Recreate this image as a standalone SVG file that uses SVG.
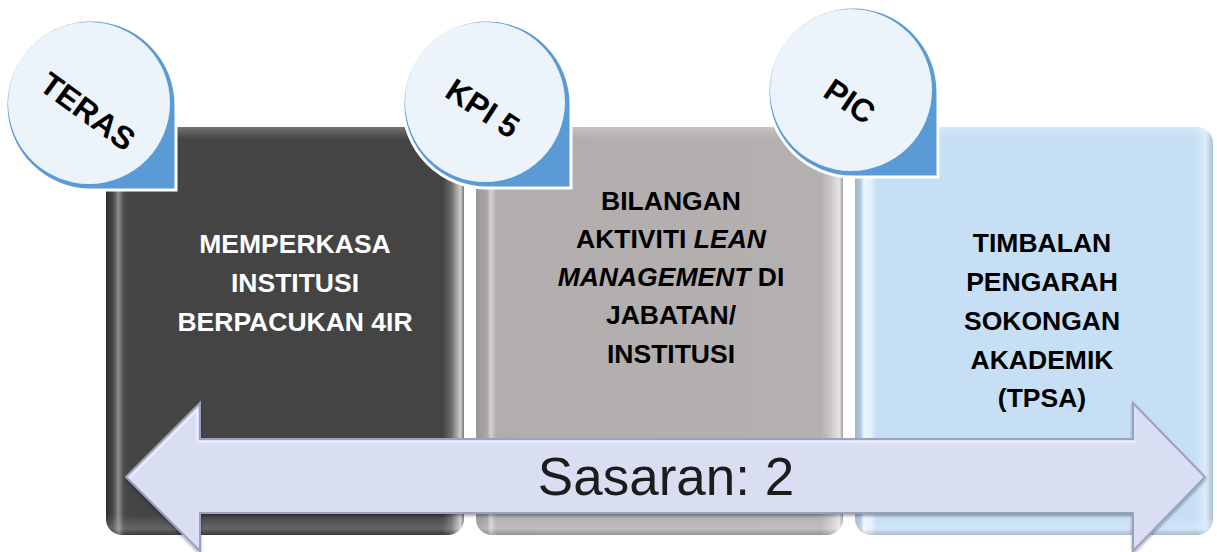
<svg xmlns="http://www.w3.org/2000/svg" width="1217" height="552" viewBox="0 0 1217 552">
  <style>
    .boxtxt { font-family: "Liberation Sans", Arial, sans-serif; font-weight: bold; font-size: 26.5px; text-anchor: middle; }
    .pintxt { font-family: "Liberation Sans", Arial, sans-serif; font-weight: bold; font-size: 32px; text-anchor: middle; fill: #000; }
    .pinouter { fill: #5b9bd5; stroke: #ffffff; stroke-width: 3; }
    .pininner { fill: #edf3fa; }
    .arrowtxt { font-family: "Liberation Sans", Arial, sans-serif; font-size: 53px; text-anchor: middle; fill: #1a1a1a; }
  </style>
  <defs>
    <linearGradient id="g1" x1="0" y1="0" x2="1" y2="0">
      <stop offset="0" stop-color="#2e2e2e"/>
      <stop offset="0.02" stop-color="#4a4a4a"/>
      <stop offset="0.035" stop-color="#8c8c8c"/>
      <stop offset="0.05" stop-color="#4a4a4a"/>
      <stop offset="0.07" stop-color="#444444"/>
      <stop offset="0.94" stop-color="#444444"/>
      <stop offset="0.965" stop-color="#6c6c6c"/>
      <stop offset="0.99" stop-color="#cccccc"/>
      <stop offset="1" stop-color="#777777"/>
    </linearGradient>
    <linearGradient id="g2" x1="0" y1="0" x2="1" y2="0">
      <stop offset="0" stop-color="#9a9695"/>
      <stop offset="0.03" stop-color="#a9a5a4"/>
      <stop offset="0.04" stop-color="#d4d1d0"/>
      <stop offset="0.055" stop-color="#b2aead"/>
      <stop offset="0.94" stop-color="#b4b0af"/>
      <stop offset="0.965" stop-color="#c8c5c4"/>
      <stop offset="0.99" stop-color="#e8e6e5"/>
      <stop offset="1" stop-color="#a09c9b"/>
    </linearGradient>
    <linearGradient id="g3" x1="0" y1="0" x2="1" y2="0">
      <stop offset="0" stop-color="#9fb7cc"/>
      <stop offset="0.015" stop-color="#aec8de"/>
      <stop offset="0.025" stop-color="#eef6fd"/>
      <stop offset="0.045" stop-color="#e4f0fb"/>
      <stop offset="0.06" stop-color="#c6dff5"/>
      <stop offset="0.95" stop-color="#c6dff5"/>
      <stop offset="0.98" stop-color="#dcebf9"/>
      <stop offset="1" stop-color="#a9c2d8"/>
    </linearGradient>
    <linearGradient id="gv" x1="0" y1="0" x2="0" y2="1">
      <stop offset="0" stop-color="#ffffff" stop-opacity="0.25"/>
      <stop offset="0.03" stop-color="#ffffff" stop-opacity="0"/>
      <stop offset="0.95" stop-color="#ffffff" stop-opacity="0"/>
      <stop offset="0.985" stop-color="#ffffff" stop-opacity="0.18"/>
      <stop offset="1" stop-color="#000000" stop-opacity="0.15"/>
    </linearGradient>
    <filter id="sh" x="-5%" y="-10%" width="110%" height="130%">
      <feGaussianBlur in="SourceAlpha" stdDeviation="1.5"/>
      <feOffset dx="0" dy="2" result="b"/>
      <feComponentTransfer><feFuncA type="linear" slope="0.35"/></feComponentTransfer>
      <feMerge><feMergeNode/><feMergeNode in="SourceGraphic"/></feMerge>
    </filter>
  </defs>

  <rect width="1217" height="552" fill="#ffffff"/>

  <!-- Boxes -->
  <g id="box-teras">
    <rect x="106" y="127" width="358" height="408" rx="16" fill="url(#g1)"/>
    <rect x="106" y="127" width="358" height="408" rx="16" fill="url(#gv)"/>
    <text class="boxtxt" fill="#ffffff"><tspan x="295" y="253">MEMPERKASA</tspan><tspan x="295" y="292">INSTITUSI</tspan><tspan x="295" y="331">BERPACUKAN 4IR</tspan></text>
  </g>
  <g id="box-kpi">
    <rect x="476" y="127" width="367" height="408" rx="16" fill="url(#g2)"/>
    <rect x="476" y="127" width="367" height="408" rx="16" fill="url(#gv)"/>
    <text class="boxtxt" fill="#000000"><tspan x="671" y="210">BILANGAN</tspan><tspan x="671" y="248">AKTIVITI <tspan font-style="italic">LEAN</tspan></tspan><tspan x="671" y="286"><tspan font-style="italic">MANAGEMENT</tspan> DI</tspan><tspan x="671" y="324">JABATAN/</tspan><tspan x="671" y="363">INSTITUSI</tspan></text>
  </g>
  <g id="box-pic">
    <rect x="855" y="127" width="358" height="408" rx="16" fill="url(#g3)"/>
    <rect x="855" y="127" width="358" height="408" rx="16" fill="url(#gv)"/>
    <text class="boxtxt" fill="#000000"><tspan x="1042" y="252">TIMBALAN</tspan><tspan x="1042" y="291">PENGARAH</tspan><tspan x="1042" y="330">SOKONGAN</tspan><tspan x="1042" y="369">AKADEMIK</tspan><tspan x="1042" y="407">(TPSA)</tspan></text>
  </g>

  <!-- Pins -->
  <g id="pin-teras">
    <path class="pinouter" d="M176,105 A85,85 0 1 0 91,190 L176,190 Z"/>
    <circle class="pininner" cx="89" cy="103" r="81"/>
    <text class="pintxt" transform="translate(88,111) rotate(36)" y="11.5">TERAS</text>
  </g>
  <g id="pin-kpi">
    <path class="pinouter" d="M571,104 A84,84 0 1 0 487,188 L571,188 Z"/>
    <circle class="pininner" cx="485" cy="102" r="80"/>
    <text class="pintxt" transform="translate(483,108) rotate(33)" y="11.5">KPI 5</text>
  </g>
  <g id="pin-pic">
    <path class="pinouter" d="M938,92 A85,85 0 1 0 853,177 L938,177 Z"/>
    <circle class="pininner" cx="851" cy="90" r="81"/>
    <text class="pintxt" transform="translate(850,101) rotate(34)" y="11.5">PIC</text>
  </g>

  <!-- Double arrow -->
  <g id="connectors">
    <g id="arrow-sasaran" filter="url(#sh)">
      <polygon points="126,477 200,403 200,439 1133,439 1133,403 1205,477 1133,551 1133,513 200,513 200,551" fill="#d9def3" stroke="#9aa2c2" stroke-width="2" stroke-linejoin="miter"/>
      <polyline points="130,477 197,410 197,442 1136,442" fill="none" stroke="#eef1fb" stroke-width="1.5"/>
      <text class="arrowtxt" x="666" y="495">Sasaran: 2</text>
    </g>
  </g>
</svg>
